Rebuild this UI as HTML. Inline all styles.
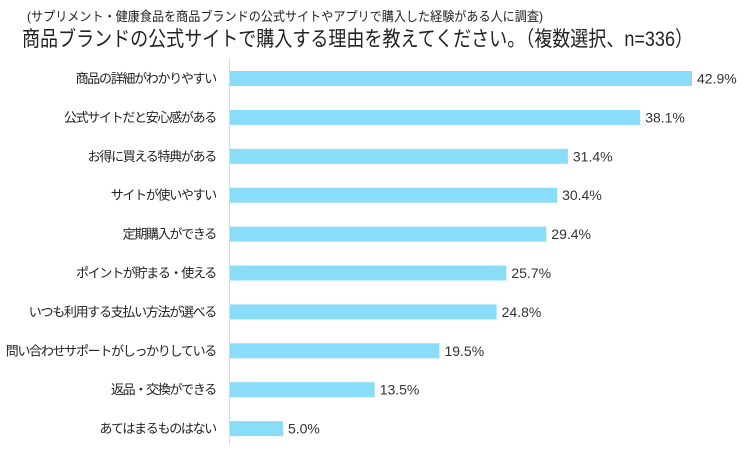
<!DOCTYPE html>
<html><head><meta charset="utf-8"><style>
body{margin:0;background:#fff;width:753px;height:451px;overflow:hidden;font-family:"Liberation Sans","Noto Sans CJK JP",sans-serif;}
svg text{font-family:"Liberation Sans","Noto Sans CJK JP",sans-serif;}
</style></head><body>
<svg id="c" width="753" height="451">
<text x="27" y="21" font-size="13" fill="#222" textLength="516" lengthAdjust="spacingAndGlyphs">(サプリメント・健康食品を商品ブランドの公式サイトやアプリで購入した経験がある人に調査)</text>
<text x="22" y="46" font-size="21" fill="#222" textLength="671" lengthAdjust="spacingAndGlyphs">商品ブランドの公式サイトで購入する理由を教えてください。（複数選択、n=336）</text>
<line x1="229.5" y1="58" x2="229.5" y2="445" stroke="#d9d9d9"/>
</svg>
<script>
const categories=["商品の詳細がわかりやすい","公式サイトだと安心感がある","お得に買える特典がある","サイトが使いやすい","定期購入ができる","ポイントが貯まる・使える","いつも利用する支払い方法が選べる","問い合わせサポートがしっかりしている","返品・交換ができる","あてはまるものはない"];
const values=[42.9,38.1,31.4,30.4,29.4,25.7,24.8,19.5,13.5,5.0];
const valueLabels=["42.9%","38.1%","31.4%","30.4%","29.4%","25.7%","24.8%","19.5%","13.5%","5.0%"];
const svg=document.getElementById('c');
const NS='http://www.w3.org/2000/svg';
const x0=229, pxPer=(692-229)/42.9;
const xs=v=>x0+v*pxPer;
const yc=i=>78.5+i*38.9;
categories.forEach((c,i)=>{
  const r=document.createElementNS(NS,'rect');
  r.setAttribute('x',x0+1);r.setAttribute('y',yc(i)-7.5);
  r.setAttribute('width',xs(values[i])-x0-1);r.setAttribute('height',15);
  r.setAttribute('fill','#89ddf9');
  
  
  svg.appendChild(r);
  const l=document.createElementNS(NS,'text');
  l.setAttribute('x',216);l.setAttribute('y',yc(i)+4.5);l.setAttribute('text-anchor','end');
  l.setAttribute('font-size','13');l.setAttribute('letter-spacing','-1.3');l.setAttribute('fill','#222');l.textContent=c;
  
  
  svg.appendChild(l);
  const t=document.createElementNS(NS,'text');
  t.setAttribute('x',xs(values[i])+5);t.setAttribute('y',yc(i)+5);
  t.setAttribute('font-size','14');t.setAttribute('fill','#333');t.textContent=valueLabels[i];
  
  
  svg.appendChild(t);
});
</script>
</body></html>
